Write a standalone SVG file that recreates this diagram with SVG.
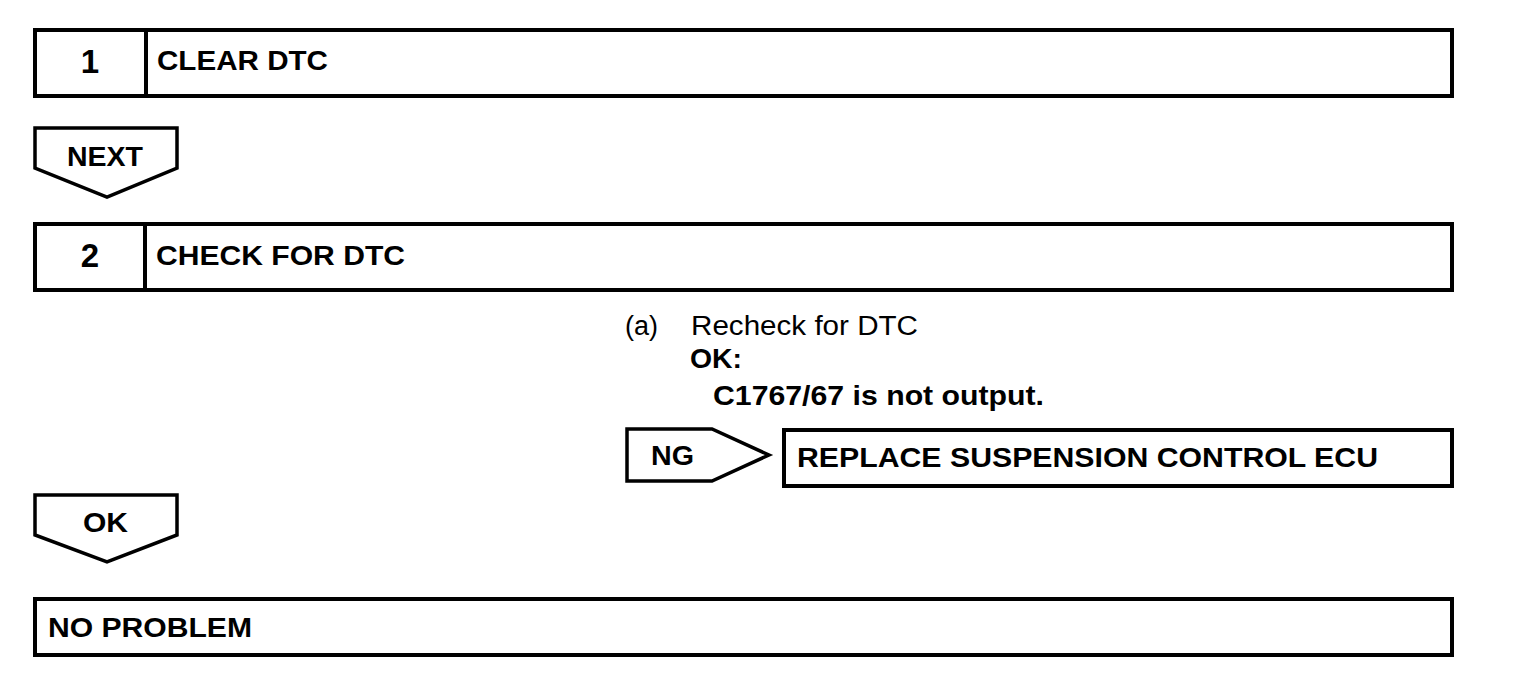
<svg xmlns="http://www.w3.org/2000/svg" width="1536" height="688" viewBox="0 0 1536 688">
<style>
.box{fill:#fff;stroke:#000;stroke-width:4}
.div{stroke:#000;stroke-width:4}
.arr{fill:#fff;stroke:#000;stroke-width:3.5;stroke-linejoin:miter}
.b{font-family:"Liberation Sans",Arial,sans-serif;font-weight:bold;font-size:27px;fill:#000}
.r{font-family:"Liberation Sans",Arial,sans-serif;font-size:27px;fill:#000}
.num{font-family:"Liberation Sans",Arial,sans-serif;font-weight:bold;font-size:33px;fill:#000;text-anchor:middle}
</style>
<rect width="1536" height="688" fill="#fff"/>
<g id="step1">
<rect class="box" x="35" y="30" width="1417" height="66"/>
<line class="div" x1="146" y1="30" x2="146" y2="96"/>
<text class="num" x="90" y="73">1</text>
<text class="b" x="157" y="70" textLength="171" lengthAdjust="spacingAndGlyphs">CLEAR DTC</text>
</g>
<g id="step2">
<rect class="box" x="35" y="224" width="1417" height="66"/>
<line class="div" x1="145" y1="224" x2="145" y2="290"/>
<text class="num" x="90" y="267">2</text>
<text class="b" x="156" y="265" textLength="249" lengthAdjust="spacingAndGlyphs">CHECK FOR DTC</text>
</g>
<g id="note">
<text class="r" x="625" y="335">(a)</text>
<text class="r" x="691" y="335" textLength="227" lengthAdjust="spacingAndGlyphs">Recheck for DTC</text>
<text class="b" x="690" y="368" textLength="52" lengthAdjust="spacingAndGlyphs">OK:</text>
<text class="b" x="713" y="405" textLength="331" lengthAdjust="spacingAndGlyphs">C1767/67 is not output.</text>
</g>
<g id="replace">
<rect class="box" x="784" y="430" width="668" height="56"/>
<text class="b" x="797" y="467" textLength="581" lengthAdjust="spacingAndGlyphs">REPLACE SUSPENSION CONTROL ECU</text>
</g>
<g id="noproblem">
<rect class="box" x="35" y="599" width="1417" height="56"/>
<text class="b" x="48" y="637" textLength="204" lengthAdjust="spacingAndGlyphs">NO PROBLEM</text>
</g>
<g id="connectors">
<g id="next">
<polygon class="arr" points="35,128 177,128 177,168 107,197 35,168"/>
<text class="b" x="67" y="166" textLength="76" lengthAdjust="spacingAndGlyphs">NEXT</text>
</g>
<g id="ng">
<polygon class="arr" points="627,429 712,429 769,455 712,481 627,481"/>
<text class="b" x="651" y="465" textLength="43" lengthAdjust="spacingAndGlyphs">NG</text>
</g>
<g id="ok">
<polygon class="arr" points="35,495 177,495 177,535 107,562 35,535"/>
<text class="b" x="83" y="532" textLength="45" lengthAdjust="spacingAndGlyphs">OK</text>
</g>
</g>
</svg>
